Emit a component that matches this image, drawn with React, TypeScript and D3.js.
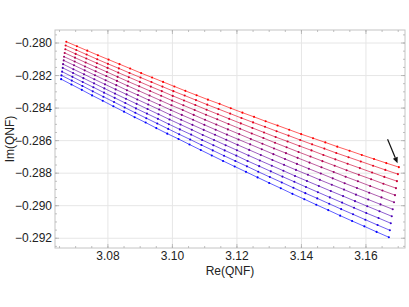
import React from "react";
import * as d3 from "d3";

// Re(QNF) per curve, red (top) to blue (bottom)
const re0 = [3.0671, 3.0704, 3.0736, 3.0769, 3.0802, 3.0836, 3.0869, 3.0903, 3.0937, 3.0971, 3.1006, 3.1040, 3.1075, 3.1110, 3.1146, 3.1181, 3.1217, 3.1253, 3.1289, 3.1326, 3.1362, 3.1399, 3.1436, 3.1474, 3.1511, 3.1549, 3.1587, 3.1625, 3.1663, 3.1702];
const re1 = [3.0669, 3.0702, 3.0734, 3.0767, 3.0800, 3.0834, 3.0867, 3.0901, 3.0935, 3.0969, 3.1003, 3.1038, 3.1073, 3.1108, 3.1143, 3.1179, 3.1214, 3.1250, 3.1287, 3.1323, 3.1360, 3.1396, 3.1433, 3.1471, 3.1508, 3.1546, 3.1584, 3.1622, 3.1660, 3.1699];
const re2 = [3.0668, 3.0700, 3.0733, 3.0766, 3.0799, 3.0832, 3.0865, 3.0899, 3.0933, 3.0967, 3.1001, 3.1036, 3.1071, 3.1106, 3.1141, 3.1176, 3.1212, 3.1248, 3.1284, 3.1320, 3.1357, 3.1394, 3.1431, 3.1468, 3.1505, 3.1543, 3.1581, 3.1619, 3.1657, 3.1696];
const re3 = [3.0666, 3.0698, 3.0731, 3.0764, 3.0797, 3.0830, 3.0863, 3.0897, 3.0931, 3.0965, 3.0999, 3.1034, 3.1069, 3.1104, 3.1139, 3.1174, 3.1210, 3.1246, 3.1282, 3.1318, 3.1354, 3.1391, 3.1428, 3.1465, 3.1503, 3.1540, 3.1578, 3.1616, 3.1654, 3.1693];
const re4 = [3.0664, 3.0697, 3.0729, 3.0762, 3.0795, 3.0828, 3.0861, 3.0895, 3.0929, 3.0963, 3.0997, 3.1032, 3.1066, 3.1101, 3.1136, 3.1172, 3.1207, 3.1243, 3.1279, 3.1315, 3.1352, 3.1388, 3.1425, 3.1462, 3.1500, 3.1537, 3.1575, 3.1613, 3.1651, 3.1690];
const re5 = [3.0663, 3.0695, 3.0728, 3.0760, 3.0793, 3.0826, 3.0859, 3.0893, 3.0927, 3.0961, 3.0995, 3.1029, 3.1064, 3.1099, 3.1134, 3.1169, 3.1205, 3.1241, 3.1277, 3.1313, 3.1349, 3.1386, 3.1423, 3.1460, 3.1497, 3.1534, 3.1572, 3.1610, 3.1648, 3.1687];
const re6 = [3.0661, 3.0693, 3.0726, 3.0758, 3.0791, 3.0824, 3.0858, 3.0891, 3.0925, 3.0959, 3.0993, 3.1027, 3.1062, 3.1097, 3.1132, 3.1167, 3.1202, 3.1238, 3.1274, 3.1310, 3.1346, 3.1383, 3.1420, 3.1457, 3.1494, 3.1532, 3.1569, 3.1607, 3.1645, 3.1683];
const re7 = [3.0660, 3.0692, 3.0724, 3.0757, 3.0789, 3.0822, 3.0856, 3.0889, 3.0923, 3.0957, 3.0991, 3.1025, 3.1060, 3.1094, 3.1129, 3.1165, 3.1200, 3.1236, 3.1271, 3.1308, 3.1344, 3.1380, 3.1417, 3.1454, 3.1491, 3.1529, 3.1566, 3.1604, 3.1642, 3.1680];
const re8 = [3.0658, 3.0690, 3.0722, 3.0755, 3.0788, 3.0821, 3.0854, 3.0887, 3.0921, 3.0955, 3.0989, 3.1023, 3.1058, 3.1092, 3.1127, 3.1162, 3.1198, 3.1233, 3.1269, 3.1305, 3.1341, 3.1378, 3.1414, 3.1451, 3.1488, 3.1526, 3.1563, 3.1601, 3.1639, 3.1677];
const re9 = [3.0656, 3.0688, 3.0721, 3.0753, 3.0786, 3.0819, 3.0852, 3.0885, 3.0919, 3.0953, 3.0987, 3.1021, 3.1055, 3.1090, 3.1125, 3.1160, 3.1195, 3.1231, 3.1266, 3.1302, 3.1339, 3.1375, 3.1412, 3.1449, 3.1486, 3.1523, 3.1560, 3.1598, 3.1636, 3.1674];
const re10 = [3.0655, 3.0687, 3.0719, 3.0751, 3.0784, 3.0817, 3.0850, 3.0883, 3.0917, 3.0950, 3.0984, 3.1019, 3.1053, 3.1088, 3.1122, 3.1157, 3.1193, 3.1228, 3.1264, 3.1300, 3.1336, 3.1372, 3.1409, 3.1446, 3.1483, 3.1520, 3.1557, 3.1595, 3.1633, 3.1671];

// Im(QNF) per curve
const im0 = [-0.27992, -0.28020, -0.28047, -0.28075, -0.28102, -0.28130, -0.28157, -0.28185, -0.28212, -0.28239, -0.28267, -0.28294, -0.28321, -0.28348, -0.28374, -0.28401, -0.28428, -0.28454, -0.28481, -0.28507, -0.28533, -0.28560, -0.28585, -0.28611, -0.28637, -0.28662, -0.28688, -0.28713, -0.28738, -0.28763];
const im1 = [-0.28015, -0.28043, -0.28071, -0.28100, -0.28128, -0.28156, -0.28184, -0.28212, -0.28240, -0.28268, -0.28296, -0.28323, -0.28351, -0.28379, -0.28406, -0.28434, -0.28461, -0.28488, -0.28515, -0.28542, -0.28569, -0.28596, -0.28623, -0.28649, -0.28676, -0.28702, -0.28728, -0.28754, -0.28780, -0.28806];
const im2 = [-0.28038, -0.28067, -0.28095, -0.28124, -0.28153, -0.28182, -0.28210, -0.28239, -0.28268, -0.28296, -0.28325, -0.28353, -0.28381, -0.28410, -0.28438, -0.28466, -0.28494, -0.28522, -0.28550, -0.28578, -0.28605, -0.28633, -0.28660, -0.28688, -0.28715, -0.28742, -0.28769, -0.28796, -0.28823, -0.28849];
const im3 = [-0.28061, -0.28090, -0.28120, -0.28149, -0.28178, -0.28208, -0.28237, -0.28266, -0.28295, -0.28324, -0.28354, -0.28383, -0.28412, -0.28441, -0.28469, -0.28498, -0.28527, -0.28556, -0.28584, -0.28613, -0.28641, -0.28670, -0.28698, -0.28726, -0.28754, -0.28782, -0.28810, -0.28837, -0.28865, -0.28892];
const im4 = [-0.28084, -0.28114, -0.28144, -0.28174, -0.28203, -0.28233, -0.28263, -0.28293, -0.28323, -0.28353, -0.28383, -0.28412, -0.28442, -0.28472, -0.28501, -0.28531, -0.28560, -0.28590, -0.28619, -0.28648, -0.28677, -0.28706, -0.28735, -0.28764, -0.28793, -0.28822, -0.28850, -0.28879, -0.28907, -0.28935];
const im5 = [-0.28107, -0.28137, -0.28168, -0.28198, -0.28229, -0.28259, -0.28290, -0.28320, -0.28351, -0.28381, -0.28412, -0.28442, -0.28472, -0.28503, -0.28533, -0.28563, -0.28593, -0.28623, -0.28653, -0.28683, -0.28713, -0.28743, -0.28773, -0.28802, -0.28832, -0.28862, -0.28891, -0.28920, -0.28949, -0.28979];
const im6 = [-0.28130, -0.28161, -0.28192, -0.28223, -0.28254, -0.28285, -0.28316, -0.28347, -0.28378, -0.28409, -0.28441, -0.28472, -0.28503, -0.28534, -0.28564, -0.28595, -0.28626, -0.28657, -0.28688, -0.28719, -0.28749, -0.28780, -0.28810, -0.28841, -0.28871, -0.28901, -0.28932, -0.28962, -0.28992, -0.29022];
const im7 = [-0.28153, -0.28184, -0.28216, -0.28248, -0.28279, -0.28311, -0.28343, -0.28374, -0.28406, -0.28438, -0.28470, -0.28501, -0.28533, -0.28565, -0.28596, -0.28628, -0.28659, -0.28691, -0.28722, -0.28754, -0.28785, -0.28817, -0.28848, -0.28879, -0.28910, -0.28941, -0.28972, -0.29003, -0.29034, -0.29065];
const im8 = [-0.28176, -0.28208, -0.28240, -0.28272, -0.28305, -0.28337, -0.28369, -0.28402, -0.28434, -0.28466, -0.28499, -0.28531, -0.28563, -0.28596, -0.28628, -0.28660, -0.28692, -0.28725, -0.28757, -0.28789, -0.28821, -0.28853, -0.28885, -0.28917, -0.28949, -0.28981, -0.29013, -0.29045, -0.29076, -0.29108];
const im9 = [-0.28199, -0.28231, -0.28264, -0.28297, -0.28330, -0.28363, -0.28396, -0.28429, -0.28462, -0.28495, -0.28528, -0.28561, -0.28593, -0.28627, -0.28660, -0.28693, -0.28725, -0.28758, -0.28791, -0.28824, -0.28857, -0.28890, -0.28923, -0.28955, -0.28988, -0.29021, -0.29053, -0.29086, -0.29119, -0.29151];
const im10 = [-0.28222, -0.28255, -0.28288, -0.28322, -0.28355, -0.28389, -0.28422, -0.28456, -0.28489, -0.28523, -0.28557, -0.28590, -0.28624, -0.28658, -0.28691, -0.28725, -0.28759, -0.28792, -0.28826, -0.28860, -0.28893, -0.28927, -0.28960, -0.28994, -0.29027, -0.29061, -0.29094, -0.29127, -0.29161, -0.29194];

const reSeries = [re0, re1, re2, re3, re4, re5, re6, re7, re8, re9, re10];
const imSeries = [im0, im1, im2, im3, im4, im5, im6, im7, im8, im9, im10];

const xTicks = [3.08, 3.1, 3.12, 3.14, 3.16];
const yTicks = [-0.28, -0.282, -0.284, -0.286, -0.288, -0.29, -0.292];
const xDomain = [3.0636, 3.1721];
const yDomain = [-0.2792, -0.2926];

// arrow pointing at the end of the top curve
const arrowFrom = [3.1667, -0.28591];
const arrowTo = [3.1698, -0.28739];

const W = 409;
const H = 307;
const frame = { left: 55, right: 405, top: 30, bottom: 248 };
const font = "'Liberation Sans', Arial, sans-serif";

export default function App() {
  const x = d3.scaleLinear().domain(xDomain).range([frame.left, frame.right]);
  const y = d3.scaleLinear().domain(yDomain).range([frame.top, frame.bottom]);
  const color = d3.interpolateRgb("#ff0000", "#0000ff");
  const line = d3.line<[number, number]>().x(d => x(d[0])).y(d => y(d[1]));

  const xMinor = d3.range(3.065, xDomain[1], 0.005);
  const yMinor = d3.range(-0.2795, yDomain[1], -0.0005);
  const fx = d3.format(".2f");
  const fy = d3.format(".3f");

  // arrow head
  const ax1 = x(arrowFrom[0]), ay1 = y(arrowFrom[1]);
  const ax2 = x(arrowTo[0]), ay2 = y(arrowTo[1]);
  const ang = Math.atan2(ay2 - ay1, ax2 - ax1);
  const hl = 6, hw = 2.6;
  const bx = ax2 - hl * Math.cos(ang), by = ay2 - hl * Math.sin(ang);
  const head = [
    [ax2, ay2],
    [bx + hw * Math.sin(ang), by - hw * Math.cos(ang)],
    [bx - hw * Math.sin(ang), by + hw * Math.cos(ang)],
  ].map(p => p.join(",")).join(" ");

  return (
    <svg width={W} height={H} style={{ position: "absolute", left: 0, top: 0, background: "#fff" }} fontFamily={font}>
      {/* grid */}
      <g stroke="#e6e6e6" strokeWidth={1}>
        {xTicks.map(t => (
          <line key={"gx" + t} x1={x(t)} x2={x(t)} y1={frame.top} y2={frame.bottom} />
        ))}
        {yTicks.map(t => (
          <line key={"gy" + t} x1={frame.left} x2={frame.right} y1={y(t)} y2={y(t)} />
        ))}
      </g>

      {/* frame + ticks */}
      <rect x={frame.left} y={frame.top} width={frame.right - frame.left} height={frame.bottom - frame.top}
        fill="none" stroke="#c4c4c4" strokeWidth={1} />
      <g stroke="#b0b0b0" strokeWidth={0.8}>
        {xMinor.map((t, i) => (
          <g key={"mx" + i}>
            <line x1={x(t)} x2={x(t)} y1={frame.bottom} y2={frame.bottom - 2} />
            <line x1={x(t)} x2={x(t)} y1={frame.top} y2={frame.top + 2} />
          </g>
        ))}
        {yMinor.map((t, i) => (
          <g key={"my" + i}>
            <line x1={frame.left} x2={frame.left + 2} y1={y(t)} y2={y(t)} />
            <line x1={frame.right} x2={frame.right - 2} y1={y(t)} y2={y(t)} />
          </g>
        ))}
        {xTicks.map(t => (
          <g key={"tx" + t}>
            <line x1={x(t)} x2={x(t)} y1={frame.bottom} y2={frame.bottom - 4} />
            <line x1={x(t)} x2={x(t)} y1={frame.top} y2={frame.top + 4} />
          </g>
        ))}
        {yTicks.map(t => (
          <g key={"ty" + t}>
            <line x1={frame.left} x2={frame.left + 4} y1={y(t)} y2={y(t)} />
            <line x1={frame.right} x2={frame.right - 4} y1={y(t)} y2={y(t)} />
          </g>
        ))}
      </g>

      {/* tick labels */}
      <g fontSize={12} fill="#222">
        {xTicks.map(t => (
          <text key={"lx" + t} x={x(t)} y={frame.bottom + 12} textAnchor="middle">{fx(t)}</text>
        ))}
        {yTicks.map(t => (
          <text key={"ly" + t} x={frame.left - 3} y={y(t) + 4.2} textAnchor="end">{fy(t)}</text>
        ))}
      </g>

      {/* axis titles */}
      <text x={(frame.left + frame.right) / 2} y={275} textAnchor="middle" fontSize={12} fill="#222">Re(QNF)</text>
      <text transform={`translate(14,${(frame.top + frame.bottom) / 2}) rotate(-90)`} textAnchor="middle" fontSize={12} fill="#222">Im(QNF)</text>

      {/* curves */}
      {reSeries.map((rs, i) => {
        const pts = rs.map((r, k) => [r, imSeries[i][k]] as [number, number]);
        const c = color(i / (reSeries.length - 1));
        return (
          <g key={"s" + i}>
            <path d={line(pts) || ""} fill="none" stroke={c} strokeWidth={0.9} strokeOpacity={0.7} />
            {pts.map((p, k) => (
              <circle key={k} cx={x(p[0])} cy={y(p[1])} r={1.05} fill={c} />
            ))}
          </g>
        );
      })}

      {/* arrow */}
      <line x1={ax1} y1={ay1} x2={bx} y2={by} stroke="#111" strokeWidth={1.2} />
      <polygon points={head} fill="#111" />
    </svg>
  );
}
